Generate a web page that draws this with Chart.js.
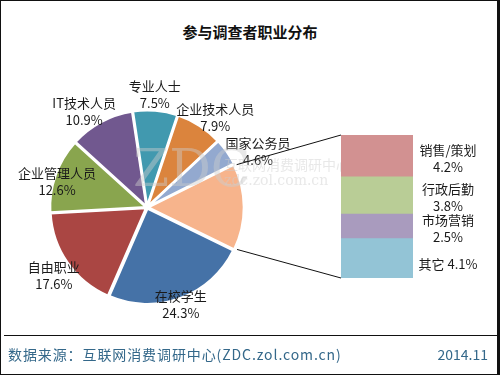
<!DOCTYPE html>
<html>
<head>
<meta charset="utf-8">
<script src="https://cdn.jsdelivr.net/npm/chart.js@4.4.1/dist/chart.umd.min.js"></script>
<style>
  html, body { margin: 0; padding: 0; background: #fff; }
  #page {
    position: relative; width: 500px; height: 375px; overflow: hidden;
    font-family: "Noto Sans CJK SC", "Noto Sans", sans-serif; background: #fff;
  }
  .layer { position: absolute; left: 0; top: 0; width: 500px; height: 375px; }
  #frame {
    position: absolute; left: 0; top: 0; width: 496px; height: 373px;
    border-left: 1px solid #111; border-top: 1px solid #111;
    border-right: 3px solid #111; border-bottom: 1px solid #111;
    pointer-events: none;
  }
  #title {
    position: absolute; left: 0; top: 21px; width: 500px; text-align: center;
    font-size: 15px; font-weight: bold; color: #111;
  }
  #rule { position: absolute; left: 4px; top: 335px; width: 493px; height: 1px; background: #111; }
  #source { position: absolute; left: 8px; top: 344px; font-size: 14px; color: #34688a; letter-spacing: 0.9px; }
  #date { position: absolute; right: 12px; top: 344px; font-size: 14px; color: #34688a; }
  .wm { position: absolute; color: rgba(205,205,205,0.45); white-space: nowrap; }
</style>
</head>
<body>
<div id="page">
  <div id="title">参与调查者职业分布</div>
  <div class="layer"><canvas id="pieChart"></canvas></div>
  <div class="wm" style="left:133px; top:138px; font-size:52px; font-family:'DejaVu Serif', serif;">ZDC</div>
  <div class="wm" style="left:224px; top:154px; font-size:14px;">互联网消费调研中心</div>
  <div class="wm" style="left:224px; top:172px; font-size:14px; font-family:'DejaVu Serif', serif;">zdc.zol.com.cn</div>
  <div class="layer"><canvas id="barChart"></canvas></div>
  <div id="rule"></div>
  <div id="source">数据来源：互联网消费调研中心(ZDC.zol.com.cn)</div>
  <div id="date">2014.11</div>
  <div id="frame"></div>
</div>

<script>
// ===== Data =====
const pieLabels = ["在校学生", "自由职业", "企业管理人员", "IT技术人员", "专业人士", "企业技术人员", "国家公务员", "其他"];
const pieValues = [24.3, 17.6, 12.6, 10.9, 7.5, 7.9, 4.6, 14.6];
const pieColors = ["#4572A7", "#AA4643", "#89A54E", "#71588F", "#4199AF", "#DB843D", "#93A9CF", "#F7B48C"];

const barLabels = ["销售/策划", "行政后勤", "市场营销", "其它"];
const barValues = [4.2, 3.8, 2.5, 4.1];
const barColors = ["#D29191", "#B9CD96", "#A99BBE", "#93C4D6"];

const FONT = '"Noto Sans CJK SC", "Noto Sans", sans-serif';

// label placement per slice: distance (x outer radius) and angle nudge in degrees, 0 dist = no label
const labelDist = [1.07, 1.2, 0.98, 1.2, 1.19, 1.18, 1.3, 0];
const labelNudge = [1, -1, -3, -5, -1, 4.5, 8, 0];

// ===== Pie labels =====
const pieLabelPlugin = {
  id: "pieLabels",
  afterDatasetsDraw(chart) {
    const ctx = chart.ctx;
    const arcs = chart.getDatasetMeta(0).data;
    ctx.save();
    ctx.font = "13px " + FONT;
    ctx.fillStyle = "#1a1a1a";
    ctx.textAlign = "center";
    ctx.textBaseline = "middle";
    arcs.forEach((arc, i) => {
      if (!labelDist[i]) return;
      const mid = (arc.startAngle + arc.endAngle) / 2 + labelNudge[i] * Math.PI / 180;
      const r = arc.outerRadius * labelDist[i];
      const x = arc.x + Math.cos(mid) * r;
      const y = arc.y + Math.sin(mid) * r;
      ctx.fillText(pieLabels[i], x, y - 8);
      ctx.fillText(pieValues[i].toFixed(1) + "%", x, y + 9);
    });
    ctx.restore();
  }
};

const pieChart = new Chart(document.getElementById("pieChart"), {
  type: "pie",
  data: {
    labels: pieLabels,
    datasets: [{
      data: pieValues,
      backgroundColor: pieColors,
      borderColor: "#fff",
      borderWidth: 2.5,
      offset: 4
    }]
  },
  options: {
    responsive: true,
    maintainAspectRatio: false,
    animation: false,
    rotation: 116,
    layout: { padding: { left: 48, top: 108, right: 254, bottom: 68 } },
    plugins: { legend: { display: false }, tooltip: { enabled: false } }
  },
  plugins: [pieLabelPlugin]
});

// ===== Bar labels + connector lines =====
const barExtras = {
  id: "barExtras",
  afterDatasetsDraw(chart) {
    const ctx = chart.ctx;
    ctx.save();
    ctx.font = "13px " + FONT;
    ctx.fillStyle = "#1a1a1a";
    ctx.textAlign = "center";
    ctx.textBaseline = "middle";
    let top = null, bottom = null, left = null;
    chart.data.datasets.forEach((ds, i) => {
      const bar = chart.getDatasetMeta(i).data[0];
      const y0 = Math.min(bar.y, bar.base), y1 = Math.max(bar.y, bar.base);
      const x = bar.x + bar.width / 2 + 35;
      const cy = (y0 + y1) / 2;
      if (i === barLabels.length - 1) {
        ctx.fillText(barLabels[i] + " " + barValues[i].toFixed(1) + "%", x, cy + 6);
      } else {
        ctx.fillText(barLabels[i], x, cy - 6);
        ctx.fillText(barValues[i].toFixed(1) + "%", x, cy + 11);
      }
      top = top === null ? y0 : Math.min(top, y0);
      bottom = bottom === null ? y1 : Math.max(bottom, y1);
      left = bar.x - bar.width / 2;
    });

    // connect to the "其他" slice of the pie
    const arc = pieChart.getDatasetMeta(0).data[pieValues.length - 1];
    if (arc) {
      const mid = (arc.startAngle + arc.endAngle) / 2;
      const off = arc.options.offset || 0;
      const cx = arc.x + Math.cos(mid) * off, cy = arc.y + Math.sin(mid) * off;
      const R = arc.outerRadius;
      ctx.strokeStyle = "#111";
      ctx.lineWidth = 1;
      ctx.beginPath();
      ctx.moveTo(cx + Math.cos(arc.startAngle) * R, cy + Math.sin(arc.startAngle) * R);
      ctx.lineTo(left, top);
      ctx.moveTo(cx + Math.cos(arc.endAngle) * R, cy + Math.sin(arc.endAngle) * R);
      ctx.lineTo(left, bottom);
      ctx.stroke();
    }
    ctx.restore();
  }
};

new Chart(document.getElementById("barChart"), {
  type: "bar",
  data: {
    labels: ["其他"],
    datasets: barLabels.map((name, i) => ({
      label: name,
      data: [barValues[i]],
      backgroundColor: barColors[i],
      borderWidth: 0,
      barPercentage: 1,
      categoryPercentage: 1
    }))
  },
  options: {
    responsive: true,
    maintainAspectRatio: false,
    animation: false,
    layout: { padding: { left: 341, top: 135, right: 87, bottom: 97 } },
    scales: {
      x: { stacked: true, display: false },
      y: {
        stacked: true, display: false, reverse: true,
        min: 0, max: barValues.reduce((a, b) => a + b, 0)
      }
    },
    plugins: { legend: { display: false }, tooltip: { enabled: false } }
  },
  plugins: [barExtras]
});
</script>
</body>
</html>
